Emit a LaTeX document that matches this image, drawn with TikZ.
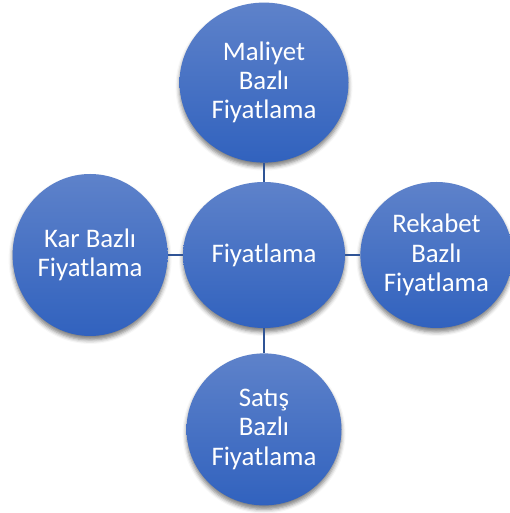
\documentclass[tikz,border=0pt]{standalone}
\usepackage{fontspec}
\setmainfont{Carlito}
\usetikzlibrary{positioning,shapes.geometric,shadows.blur}
\definecolor{bubbletop}{RGB}{94,130,202}
\definecolor{bubblebottom}{RGB}{49,98,190}
\definecolor{linkblue}{RGB}{47,84,150}
\tikzset{
  bubble/.style={ellipse, inner sep=0pt, align=center, text=white,
    top color=bubbletop, bottom color=bubblebottom, draw=none,
    font=\fontsize{26.8}{29.2}\selectfont,
    blur shadow={shadow xshift=0pt, shadow yshift=-4pt,
      shadow blur radius=4pt, shadow opacity=50}},
  link/.style={draw=linkblue, line width=1.5pt}
}

\begin{document}
\begin{tikzpicture}[x=1pt,y=1pt]
   \useasboundingbox (0,0) rectangle (510,513);

   \node[bubble, minimum width=162pt, minimum height=146pt] (main) at (264,258) {Fiyatlama};
   \node[bubble, minimum width=169pt, minimum height=160pt, above=19pt of main] (maliyet) {Maliyet\\Bazlı\\Fiyatlama};
   \node[bubble, minimum width=155pt, minimum height=162pt, left=15pt of main] (kar) {Kar Bazlı\\Fiyatlama};
   \node[bubble, minimum width=152pt, minimum height=146pt, right=15pt of main] (rekabet) {Rekabet\\Bazlı\\Fiyatlama};
   \node[bubble, minimum width=155pt, minimum height=152pt, below=25pt of main] (satis) {Satış\\Bazlı\\Fiyatlama};

   \draw[link] (main) -- (maliyet);
   \draw[link] (main) -- (kar);
   \draw[link] (main) -- (rekabet);
   \draw[link] (main) -- (satis);
\end{tikzpicture}
\end{document}
